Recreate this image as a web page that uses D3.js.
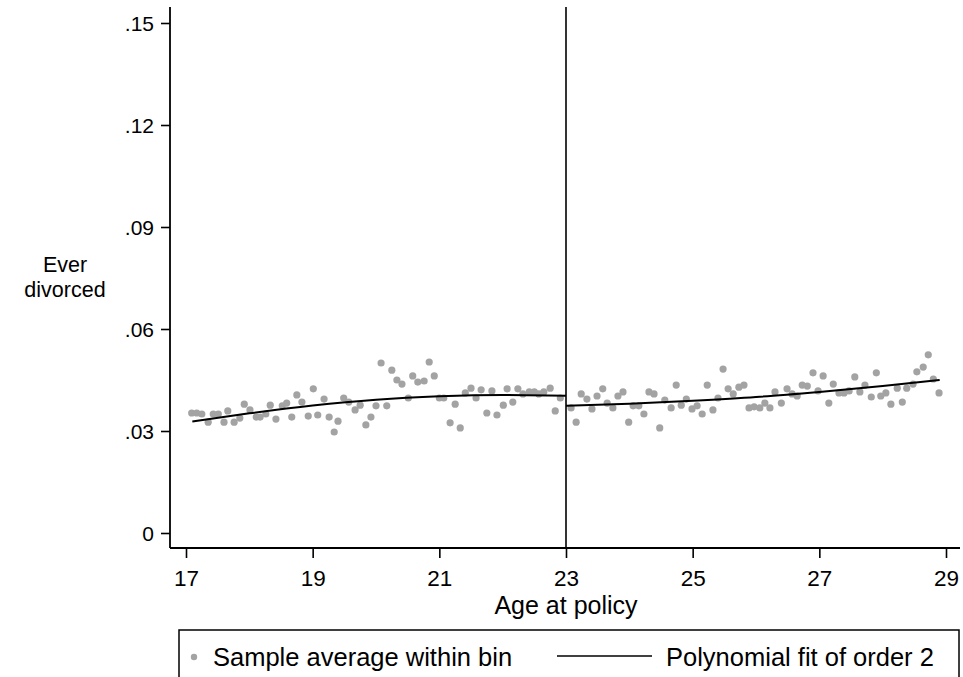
<!DOCTYPE html>
<html>
<head>
<meta charset="utf-8">
<script src="https://cdn.jsdelivr.net/npm/d3@7"></script>
<style>
body { margin: 0; background: #fff; }
text { font-family: Arial, "Liberation Sans", sans-serif; fill: #000; }
</style>
</head>
<body>
<script>
/*
*    rd plot - ever divorced by age at policy
*/

var width = 963;
var height = 677;

// bins left of cutoff (age, share ever divorced)
var leftAges = [17.09, 17.17, 17.25, 17.35, 17.43, 17.51, 17.60, 17.66, 17.76, 17.85,
    17.92, 18.01, 18.11, 18.17, 18.26, 18.33, 18.42, 18.52, 18.59, 18.67,
    18.75, 18.83, 18.93, 19.01, 19.08, 19.18, 19.26, 19.34, 19.40, 19.49,
    19.57, 19.67, 19.75, 19.84, 19.92, 20.00, 20.08, 20.17, 20.25, 20.33,
    20.41, 20.51, 20.58, 20.66, 20.76, 20.84, 20.92, 21.00, 21.07, 21.17,
    21.25, 21.33, 21.41, 21.50, 21.58, 21.66, 21.75, 21.83, 21.91, 22.01,
    22.07, 22.16, 22.24, 22.32, 22.42, 22.50, 22.57, 22.65, 22.75, 22.83, 22.91];
var leftValues = [0.0353, 0.0353, 0.0350, 0.0326, 0.0350, 0.0350, 0.0326, 0.0359, 0.0326, 0.0338,
    0.0379, 0.0362, 0.0341, 0.0341, 0.0350, 0.0376, 0.0335, 0.0374, 0.0382, 0.0341,
    0.0406, 0.0385, 0.0344, 0.0424, 0.0347, 0.0394, 0.0341, 0.0297, 0.0329, 0.0397,
    0.0385, 0.0362, 0.0376, 0.0318, 0.0341, 0.0374, 0.0500, 0.0374, 0.0479, 0.0450,
    0.0438, 0.0397, 0.0462, 0.0444, 0.0447, 0.0503, 0.0462, 0.0397, 0.0397, 0.0324,
    0.0379, 0.0309, 0.0412, 0.0426, 0.0397, 0.0421, 0.0353, 0.0418, 0.0347, 0.0376,
    0.0424, 0.0385, 0.0424, 0.0409, 0.0415, 0.0415, 0.0409, 0.0415, 0.0426, 0.0359, 0.0397];

// bins right of cutoff
var rightAges = [23.08, 23.16, 23.24, 23.33, 23.41, 23.49, 23.58, 23.65, 23.74, 23.82,
    23.90, 23.99, 24.06, 24.15, 24.23, 24.31, 24.39, 24.48, 24.56, 24.66,
    24.74, 24.82, 24.90, 24.99, 25.07, 25.15, 25.23, 25.32, 25.40, 25.48,
    25.56, 25.64, 25.73, 25.81, 25.89, 25.97, 26.06, 26.14, 26.22, 26.30,
    26.40, 26.49, 26.57, 26.65, 26.73, 26.81, 26.90, 26.98, 27.06, 27.15,
    27.22, 27.31, 27.39, 27.47, 27.56, 27.64, 27.72, 27.82, 27.90, 27.97,
    28.05, 28.13, 28.23, 28.31, 28.38, 28.48, 28.54, 28.64, 28.72, 28.80, 28.89];
var rightValues = [0.0368, 0.0326, 0.0409, 0.0394, 0.0365, 0.0403, 0.0424, 0.0382, 0.0368, 0.0403,
    0.0415, 0.0326, 0.0374, 0.0374, 0.0350, 0.0415, 0.0409, 0.0309, 0.0391, 0.0368,
    0.0435, 0.0376, 0.0394, 0.0365, 0.0374, 0.0350, 0.0435, 0.0362, 0.0397, 0.0482,
    0.0424, 0.0409, 0.0429, 0.0435, 0.0368, 0.0371, 0.0368, 0.0382, 0.0368, 0.0415,
    0.0382, 0.0424, 0.0409, 0.0403, 0.0435, 0.0432, 0.0471, 0.0418, 0.0462, 0.0382,
    0.0438, 0.0412, 0.0412, 0.0418, 0.0459, 0.0415, 0.0435, 0.0400, 0.0471, 0.0403,
    0.0412, 0.0379, 0.0426, 0.0385, 0.0426, 0.0438, 0.0474, 0.0488, 0.0524, 0.0453, 0.0412];

// polynomial fit (order 2)
var leftFitAges = [17.1, 18, 19, 20, 21, 22, 23];
var leftFitValues = [0.0328, 0.0352, 0.0375, 0.0392, 0.0402, 0.0406, 0.0404];
var rightFitAges = [23, 24, 25, 26, 27, 28, 28.9];
var rightFitValues = [0.0374, 0.0380, 0.0389, 0.0400, 0.0415, 0.0432, 0.0450];

var xTicks = [17, 19, 21, 23, 25, 27, 29];
var yTicks = [0, 0.03, 0.06, 0.09, 0.12, 0.15];
var yTickLabels = ["0", ".03", ".06", ".09", ".12", ".15"];
var cutoff = 23;

var plot = {left: 170, right: 960, top: 7, bottom: 548};

//Scales
var x = d3.scaleLinear()
    .domain([17, 29])
    .range([186, 946]);

var y = d3.scaleLinear()
    .domain([0, 0.15])
    .range([533, 23]);

//Canvas
var svg = d3.select("body")
    .append("svg")
        .attr("width", width)
        .attr("height", height);

//Axes
var leftAxis = d3.axisLeft(y)
    .tickValues(yTicks)
    .tickSize(9)
    .tickPadding(7)
    .tickFormat((d, i) => yTickLabels[i]);
var yAxis = svg.append("g")
    .attr("class", "y-axis")
    .attr("transform", "translate(" + plot.left + ", 0)")
    .call(leftAxis);
yAxis.select(".domain").remove();
yAxis.selectAll("line").attr("stroke", "#000").attr("stroke-width", 1.6);
yAxis.selectAll("text").attr("font-size", 21).attr("dy", "0.36em");

var bottomAxis = d3.axisBottom(x)
    .tickValues(xTicks)
    .tickSize(10)
    .tickPadding(12)
    .tickFormat(d3.format("d"));
var xAxis = svg.append("g")
    .attr("class", "x-axis")
    .attr("transform", "translate(0, " + plot.bottom + ")")
    .call(bottomAxis);
xAxis.select(".domain").remove();
xAxis.selectAll("line").attr("stroke", "#000").attr("stroke-width", 1.6);
xAxis.selectAll("text").attr("font-size", 22.5);

svg.append("line")
    .attr("x1", plot.left).attr("x2", plot.left)
    .attr("y1", plot.top).attr("y2", plot.bottom)
    .attr("stroke", "#000").attr("stroke-width", 1.8);
svg.append("line")
    .attr("x1", plot.left).attr("x2", plot.right)
    .attr("y1", plot.bottom).attr("y2", plot.bottom)
    .attr("stroke", "#000").attr("stroke-width", 1.8);

//Axis labels
var yLabel = svg.append("text")
    .attr("text-anchor", "middle")
    .attr("font-size", 21.5);
yLabel.append("tspan").attr("x", 65).attr("y", 272).text("Ever");
yLabel.append("tspan").attr("x", 65).attr("y", 297).text("divorced");

svg.append("text")
    .attr("x", 566)
    .attr("y", 614)
    .attr("text-anchor", "middle")
    .attr("font-size", 25)
    .text("Age at policy");

//Cutoff line
svg.append("line")
    .attr("x1", x(cutoff)).attr("x2", x(cutoff))
    .attr("y1", plot.top).attr("y2", plot.bottom)
    .attr("stroke", "#000").attr("stroke-width", 1.6);

//Bins
var bins = leftAges.map((a, i) => ({age: a, value: leftValues[i]}))
    .concat(rightAges.map((a, i) => ({age: a, value: rightValues[i]})));

svg.selectAll("circle.bin")
    .data(bins)
    .enter()
    .append("circle")
        .attr("class", "bin")
        .attr("cx", d => x(d.age))
        .attr("cy", d => y(d.value))
        .attr("r", 3.6)
        .attr("fill", "#a3a3a3");

//Fits
var fitLine = d3.line()
    .x(d => x(d[0]))
    .y(d => y(d[1]))
    .curve(d3.curveMonotoneX);

[[leftFitAges, leftFitValues], [rightFitAges, rightFitValues]].forEach(f => {
    svg.append("path")
        .datum(f[0].map((a, i) => [a, f[1][i]]))
        .attr("d", fitLine)
        .attr("fill", "none")
        .attr("stroke", "#000")
        .attr("stroke-width", 2);
});

//Legend
var legend = svg.append("g").attr("class", "legend");
legend.append("rect")
    .attr("x", 179)
    .attr("y", 630)
    .attr("width", 780)
    .attr("height", 60)
    .attr("fill", "none")
    .attr("stroke", "#000")
    .attr("stroke-width", 1.5);
legend.append("circle")
    .attr("cx", 194)
    .attr("cy", 657)
    .attr("r", 3.2)
    .attr("fill", "#a3a3a3");
legend.append("text")
    .attr("x", 213)
    .attr("y", 666)
    .attr("font-size", 25.5)
    .text("Sample average within bin");
legend.append("line")
    .attr("x1", 557).attr("x2", 652)
    .attr("y1", 656).attr("y2", 656)
    .attr("stroke", "#000")
    .attr("stroke-width", 1.6);
legend.append("text")
    .attr("x", 666)
    .attr("y", 666)
    .attr("font-size", 25.5)
    .text("Polynomial fit of order 2");
</script>
</body>
</html>
